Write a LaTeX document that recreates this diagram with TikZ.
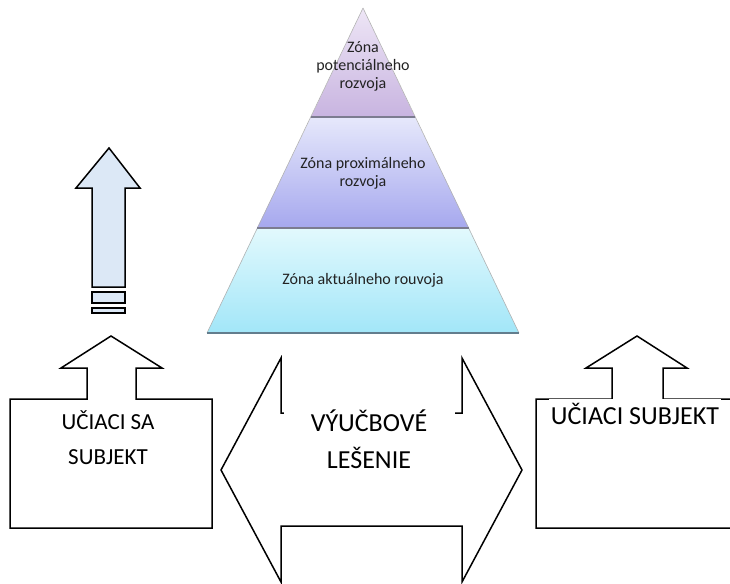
\documentclass[tikz,border=0pt]{standalone}
\usepackage{fontspec}
\setmainfont{Carlito}
\definecolor{toplight}{HTML}{EEE6F6}
\definecolor{topdark}{HTML}{C8B4E0}
\definecolor{midlight}{HTML}{E6E8FB}
\definecolor{middark}{HTML}{A6A8EE}
\definecolor{botlight}{HTML}{E2F9FD}
\definecolor{botdark}{HTML}{A2E6F8}
\definecolor{zoneline}{HTML}{7C7C90}
\definecolor{zonetext}{HTML}{222222}
\definecolor{arrowblue}{HTML}{DCE8F6}
\begin{document}
\begin{tikzpicture}[x=1pt, y=-1pt,
  outline/.style={draw=black, line width=1.5pt, line join=miter},
  bluearrow/.style={draw=black, line width=1.5pt, fill=arrowblue},
  zone/.style={align=center, text=zonetext, font=\fontsize{16}{18}\selectfont},
  boxtext/.style={align=center, fill=white, text=black}]
\useasboundingbox (0,0) rectangle (730,583);

% pyramid
\coordinate (apex) at (363,8);
\coordinate (tl) at (311,117);
\coordinate (tr) at (415,117);
\coordinate (ml) at (257,228);
\coordinate (mr) at (469,228);
\coordinate (bl) at (207,333);
\coordinate (br) at (519,333);
\shade[top color=toplight, bottom color=topdark] (apex) -- (tr) -- (tl) -- cycle;
\shade[top color=midlight, bottom color=middark] (tl) -- (tr) -- (mr) -- (ml) -- cycle;
\shade[top color=botlight, bottom color=botdark] (ml) -- (mr) -- (br) -- (bl) -- cycle;
\draw[gray!60, line width=0.6pt] (apex) -- (bl);
\draw[gray!60, line width=0.6pt] (apex) -- (br);
\draw[zoneline, line width=1.6pt] (tl) -- (tr);
\draw[zoneline, line width=1.6pt] (ml) -- (mr);
\draw[zoneline!80!teal, line width=2pt] (bl) -- (br);
\node[zone] (ztop) at (363,66) {Zóna\\potenciálneho\\rozvoja};
\node[zone] (zmid) at (363,173) {Zóna proximálneho\\rozvoja};
\node[zone] (zbot) at (363,280) {Zóna aktuálneho rouvoja};

% blue arrow
\draw[bluearrow] (109,148) -- (140,188) -- (125,188) -- (125,287) -- (92,287) -- (92,188) -- (76,188) -- cycle;
\draw[bluearrow] (92,292) rectangle (125,303);
\draw[bluearrow] (92,308) rectangle (125,313);

% learner box
\draw[outline] (10,528) -- (10,399) -- (87,399) -- (87,368) -- (61,368) -- (111,336) -- (162,368) -- (136,368) -- (136,399) -- (212,399) -- (212,528) -- cycle;
\node[boxtext, font=\fontsize{23}{35}\selectfont] (learner) at (108,438) {UČIACI SA\\SUBJEKT};

% scaffolding
\draw[outline] (221,470) -- (281,358) -- (281,413) -- (462,413) -- (462,358) -- (522,470) -- (462,582) -- (462,526) -- (281,526) -- (281,582) -- cycle;
\node[boxtext, font=\fontsize{26}{37}\selectfont, inner xsep=0pt, inner ysep=4pt, minimum width=171pt] (scaffold) at (369,439) {VÝUČBOVÉ\\LEŠENIE};

% subject box (runs off the right edge)
\draw[outline] (731,528) -- (536,528) -- (536,399) -- (612,399) -- (612,368) -- (586,368) -- (637,336) -- (687,368) -- (663,368) -- (663,399) -- (731,399);
\node[boxtext, font=\fontsize{26}{30}\selectfont, inner xsep=1.5pt, inner ysep=4pt] (subject) at (635,414) {UČIACI SUBJEKT};
\end{tikzpicture}
\end{document}
